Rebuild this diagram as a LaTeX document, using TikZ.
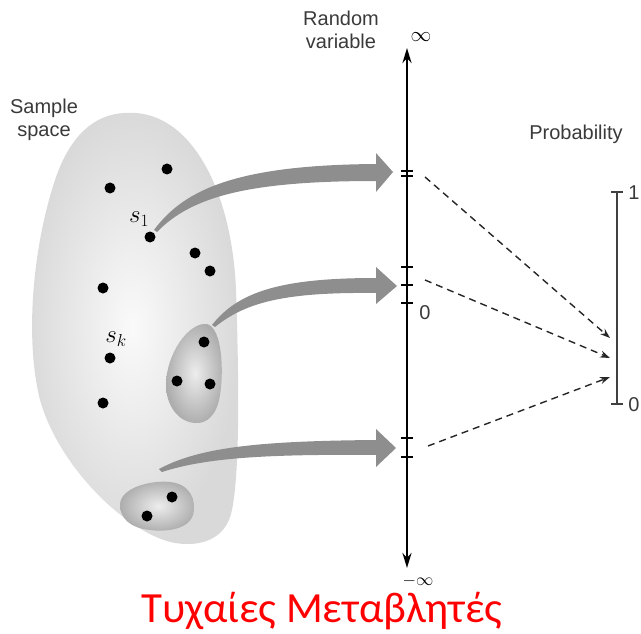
\documentclass[tikz,border=0pt]{standalone}
\usepackage{fontspec}
\setmainfont{Liberation Sans}
\newfontfamily\titlefont{Carlito}
\usetikzlibrary{arrows.meta}
\definecolor{labelgray}{HTML}{3A3A3A}
\definecolor{shaftgray}{HTML}{8E8E8E}
\tikzset{
  dot/.style={circle,fill=black,inner sep=0pt,minimum size=11pt},
  lbl/.style={text=labelgray,font=\fontsize{20}{23}\selectfont,inner sep=0pt},
  axisline/.style={line width=2.4pt,black,{Stealth[length=15pt,width=9pt]}-{Stealth[length=15pt,width=9pt]}},
  tickmark/.style={line width=2.2pt,black},
  mapping/.style={dashed,dash pattern=on 7pt off 5pt,line width=1.4pt,black!85,-{Stealth[length=10pt,width=7pt]}},
  bigarrow/.style={fill=shaftgray,draw=none},
  outcomes/.style={shade,inner color=black!2,outer color=black!15},
  event/.style={shade,inner color=black!7,outer color=black!32},
  heading/.style={text=red,font=\titlefont\fontsize{43}{45}\selectfont,anchor=base,inner sep=0pt},
  sublabel/.style={font=\fontsize{24}{26}\selectfont,inner sep=0pt},
}
\begin{document}
\begin{tikzpicture}[x=1pt,y=-1pt]
\useasboundingbox (0,0) rectangle (641,634);

% sample space blob
\path[outcomes] (125,113) .. controls (190,108) and (232,190) .. (236,290)
  .. controls (239,380) and (240,470) .. (232,510)
  .. controls (226,540) and (200,547) .. (175,543)
  .. controls (130,535) and (60,470) .. (40,400)
  .. controls (25,340) and (32,250) .. (55,180)
  .. controls (70,135) and (95,114) .. (125,113) -- cycle;

% events inside the sample space
\path[event] (207,324) .. controls (222,328) and (224,370) .. (220,395)
  .. controls (217,415) and (207,424) .. (195,423)
  .. controls (178,422) and (166,405) .. (166,385)
  .. controls (166,355) and (188,322) .. (207,324) -- cycle;
\path[event] (120,505) .. controls (120,488) and (150,480) .. (170,482)
  .. controls (190,484) and (197,500) .. (193,515)
  .. controls (188,530) and (165,532) .. (150,530)
  .. controls (130,528) and (120,518) .. (120,505) -- cycle;

% outcomes
\node[dot] (d1) at (167,169) {};
\node[dot] (d2) at (110,188) {};
\node[dot] (s1) at (150,237) {};
\node[dot] (d3) at (195,253) {};
\node[dot] (d4) at (210,271) {};
\node[dot] (d5) at (103,288) {};
\node[dot] (sk) at (110,358) {};
\node[dot] (d6) at (103,403) {};
\node[dot] (e1) at (204,342) {};
\node[dot] (e2) at (177,381) {};
\node[dot] (e3) at (210,384) {};
\node[dot] (f1) at (172,497) {};
\node[dot] (f2) at (147,516) {};

\node[sublabel] (s1lbl) at (139,219) {$s_1$};
\node[sublabel] (sklbl) at (116,339) {$s_k$};

% mapping arrows from the sample space to the real line
\path[bigarrow] (154,230) .. controls (185,188) and (240,165) .. (376,164)
  -- (376,153) -- (393,172) -- (376,192) -- (376,181)
  .. controls (250,181) and (192,196) .. (157,232) -- cycle;
\path[bigarrow] (212,325) .. controls (238,292) and (280,278) .. (376,278)
  -- (376,267) -- (397,286) -- (376,304) -- (376,293)
  .. controls (285,292) and (246,302) .. (215,327) -- cycle;
\path[bigarrow] (159,469) .. controls (200,447) and (260,441) .. (376,440)
  -- (376,429) -- (396,448) -- (376,467) -- (376,455)
  .. controls (265,454) and (205,458) .. (162,472) -- cycle;

% real line
\coordinate (rtop) at (407,48);
\coordinate (rbot) at (407,568);
\draw[axisline] (rbot) -- (rtop);
\foreach \ty in {171,176,267,285,303,438,457}
  \draw[tickmark] (401,\ty) -- (413,\ty);
\node[font=\fontsize{22}{22}\selectfont,inner sep=0pt] (inf) at (421,37) {$\infty$};
\node[font=\fontsize{18}{18}\selectfont,inner sep=0pt] (minf) at (418,581) {$-\infty$};
\node[lbl] (zero) at (425,313) {0};
\node[lbl,align=center] (rv) at (341,30) {Random\\variable};
\node[lbl,align=center] (ss) at (44,120) {Sample\\space};

% probability scale
\coordinate (ptop) at (617,192);
\coordinate (pbot) at (617,404);
\draw[line width=1.2pt,black!75] (ptop) -- (pbot);
\draw[line width=1.2pt,black!75] (611,192) -- (623,192);
\draw[line width=1.2pt,black!75] (611,404) -- (623,404);
\node[lbl] (one) at (634,193) {1};
\node[lbl] (pzero) at (634,405) {0};
\node[lbl] (prob) at (576,134) {Probability};

% probability assignment
\coordinate (r1) at (425,177);
\coordinate (r2) at (425,280);
\coordinate (r3) at (428,446);
\coordinate (q1) at (610,338);
\coordinate (q2) at (610,358);
\coordinate (q3) at (610,377);
\draw[mapping] (r1) -- (q1);
\draw[mapping] (r2) -- (q2);
\draw[mapping] (r3) -- (q3);

% title
\node[heading] (title) at (322,622) {Τυχαίες Μεταβλητές};
\end{tikzpicture}
\end{document}
